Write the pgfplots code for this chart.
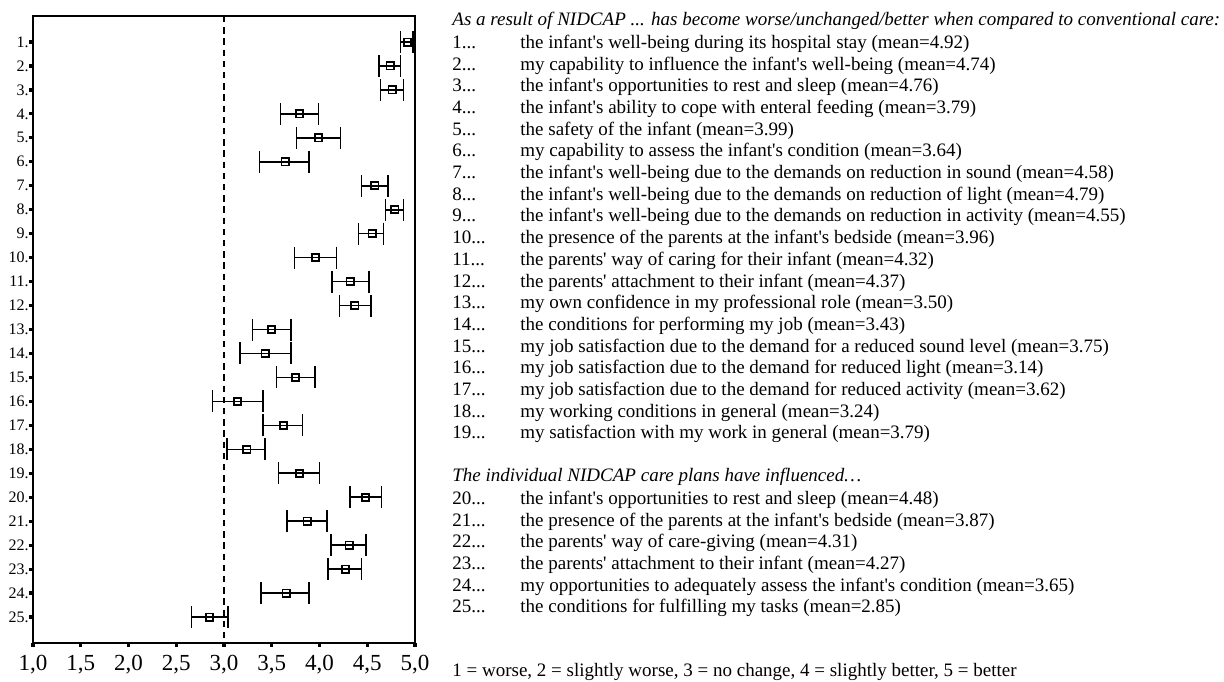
\documentclass[border=0pt]{standalone}
\usepackage{pgfplots}
\pgfplotsset{compat=1.18}
\usepackage{pgfplotstable}
\usepackage{fontspec}
\setmainfont{Liberation Serif}
\newcommand\q{\textquotesingle}
\pgfplotstableread{
i m em ep
1 4.92 0.07 0.06
2 4.74 0.12 0.11
3 4.76 0.12 0.12
4 3.79 0.20 0.20
5 3.99 0.23 0.23
6 3.64 0.27 0.25
7 4.58 0.14 0.14
8 4.79 0.10 0.09
9 4.55 0.14 0.12
10 3.96 0.22 0.22
11 4.32 0.19 0.20
12 4.37 0.16 0.17
13 3.50 0.20 0.20
14 3.43 0.26 0.27
15 3.75 0.20 0.20
16 3.14 0.26 0.27
17 3.62 0.21 0.20
18 3.24 0.21 0.19
19 3.79 0.22 0.21
20 4.48 0.16 0.17
21 3.87 0.21 0.21
22 4.31 0.19 0.18
23 4.27 0.18 0.17
24 3.65 0.26 0.24
25 2.85 0.19 0.19
}\data
\newcommand\li[3]{%
  \node[anchor=base west,inner sep=0pt,font=\fontsize{9.5}{10}\selectfont] at (226pt,#1) {#2...};
  \node[anchor=base west,inner sep=0pt,font=\fontsize{9.5}{10}\selectfont] at (260pt,#1) {#3};}
\begin{document}
\begin{tikzpicture}
\useasboundingbox (0,0) rectangle (612pt,-340.5pt);
\begin{axis}[
  anchor=south west, at={(16.5pt,-321.5pt)},
  scale only axis, width=191pt, height=313.5pt,
  xmin=1, xmax=5, ymin=-0.085, ymax=26.085, y dir=reverse,
  axis line style={line width=0.9pt},
  xtick={1,1.5,...,5},
  xticklabels={{1,0},{1,5},{2,0},{2,5},{3,0},{3,5},{4,0},{4,5},{5,0}},
  ytick={1,...,25},
  yticklabels={1.,2.,3.,4.,5.,6.,7.,8.,9.,10.,11.,12.,13.,14.,15.,16.,17.,18.,19.,20.,21.,22.,23.,24.,25.},
  tick align=outside, major tick length=1.8pt,
  tick style={line width=1.6pt, black},
  xtick pos=bottom, ytick pos=left,
  x tick label style={font=\fontsize{11.5}{12}\selectfont, yshift=-1pt},
  y tick label style={font=\fontsize{8}{9}\selectfont, xshift=3.2pt},
  /pgf/number format/assume math mode=true,
  clip=false,
]
\draw[line width=0.7pt, dash pattern=on 3.2pt off 2.4pt] (axis cs:3,-0.085) -- (axis cs:3,26.085);
\addplot[only marks, mark=square, mark size=1.8pt, mark options={line width=0.9pt, black},
  error bars/.cd, x dir=both, x explicit, error mark=|,
  error bar style={line width=0.8pt, black},
  error mark options={line width=0.8pt, black, mark size=5.5pt}]
  table[x=m, y=i, x error plus=ep, x error minus=em]{\data};
\end{axis}
\node[anchor=base west,inner sep=0pt,font=\fontsize{9.5}{10}\selectfont\itshape] at (226pt,-12.5pt) {As a result of NIDCAP ... has become worse/unchanged/better when compared to conventional care:};
\li{-24.15pt}{1}{the infant\q s well-being during its hospital stay (mean=4.92)}
\li{-35.00pt}{2}{my capability to influence the infant\q s well-being (mean=4.74)}
\li{-45.85pt}{3}{the infant\q s opportunities to rest and sleep (mean=4.76)}
\li{-56.70pt}{4}{the infant\q s ability to cope with enteral feeding (mean=3.79)}
\li{-67.55pt}{5}{the safety of the infant (mean=3.99)}
\li{-78.40pt}{6}{my capability to assess the infant\q s condition (mean=3.64)}
\li{-89.25pt}{7}{the infant\q s well-being due to the demands on reduction in sound (mean=4.58)}
\li{-100.10pt}{8}{the infant\q s well-being due to the demands on reduction of light (mean=4.79)}
\li{-110.95pt}{9}{the infant\q s well-being due to the demands on reduction in activity (mean=4.55)}
\li{-121.80pt}{10}{the presence of the parents at the infant\q s bedside (mean=3.96)}
\li{-132.65pt}{11}{the parents\q\ way of caring for their infant (mean=4.32)}
\li{-143.50pt}{12}{the parents\q\ attachment to their infant (mean=4.37)}
\li{-154.35pt}{13}{my own confidence in my professional role (mean=3.50)}
\li{-165.20pt}{14}{the conditions for performing my job (mean=3.43)}
\li{-176.05pt}{15}{my job satisfaction due to the demand for a reduced sound level (mean=3.75)}
\li{-186.90pt}{16}{my job satisfaction due to the demand for reduced light (mean=3.14)}
\li{-197.75pt}{17}{my job satisfaction due to the demand for reduced activity (mean=3.62)}
\li{-208.60pt}{18}{my working conditions in general (mean=3.24)}
\li{-219.45pt}{19}{my satisfaction with my work in general (mean=3.79)}
\node[anchor=base west,inner sep=0pt,font=\fontsize{9.5}{10}\selectfont\itshape] at (226pt,-240.85pt) {The individual NIDCAP care plans have influenced\ldots};
\li{-252.15pt}{20}{the infant\q s opportunities to rest and sleep (mean=4.48)}
\li{-263.00pt}{21}{the presence of the parents at the infant\q s bedside (mean=3.87)}
\li{-273.85pt}{22}{the parents\q\ way of care-giving (mean=4.31)}
\li{-284.70pt}{23}{the parents\q\ attachment to their infant (mean=4.27)}
\li{-295.55pt}{24}{my opportunities to adequately assess the infant\q s condition (mean=3.65)}
\li{-306.40pt}{25}{the conditions for fulfilling my tasks (mean=2.85)}
\node[anchor=base west,inner sep=0pt,font=\fontsize{9.5}{10}\selectfont] at (226pt,-338.35pt) {1 = worse, 2 = slightly worse, 3 = no change, 4 = slightly better, 5 = better};
\end{tikzpicture}
\end{document}
